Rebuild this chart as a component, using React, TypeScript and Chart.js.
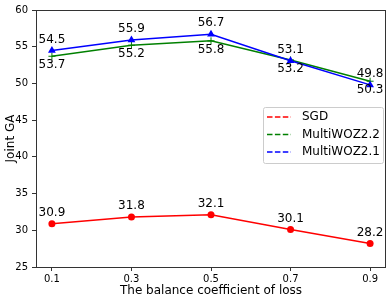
import React, { useEffect, useRef } from "react";
import { Chart, registerables } from "chart.js";

Chart.register(...registerables);

const xValues = [0.1, 0.3, 0.5, 0.7, 0.9];
const xTickLabels = ["0.1", "0.3", "0.5", "0.7", "0.9"];
const sgd = [30.9, 31.8, 32.1, 30.1, 28.2];
const multiwoz22 = [53.7, 55.2, 55.8, 53.2, 50.3];
const multiwoz21 = [54.5, 55.9, 56.7, 53.1, 49.8];
const seriesNames = ["SGD", "MultiWOZ2.2", "MultiWOZ2.1"];
const seriesColors = ["#ff0000", "#008000", "#0000ff"];
const yTicks = [25, 30, 35, 40, 45, 50, 55, 60];

const FONT = "'DejaVu Sans', sans-serif";

const frameAndLabels = {
  id: "frameAndLabels",
  afterDatasetsDraw(chart: any) {
    const ctx = chart.ctx;
    ctx.save();
    ctx.font = `12px ${FONT}`;
    ctx.fillStyle = "#000";
    ctx.textAlign = "center";
    ctx.textBaseline = "middle";
    chart.data.datasets.forEach((ds: any, di: number) => {
      const meta = chart.getDatasetMeta(di);
      meta.data.forEach((pt: any, i: number) => {
        const v = ds.data[i].y;
        const dy = ds.labelPos === "below" ? 9 : -11;
        ctx.fillText(v.toFixed(1), pt.x, pt.y + dy);
      });
    });
    ctx.restore();
  },
  afterDraw(chart: any) {
    const ctx = chart.ctx;
    const a = chart.chartArea;
    ctx.save();
    ctx.strokeStyle = "#333";
    ctx.lineWidth = 1;
    ctx.strokeRect(Math.round(a.left) + 0.5, Math.round(a.top) + 0.5, Math.round(a.right - a.left) - 1, Math.round(a.bottom - a.top));
    // legend
    const bx = 263.5, by = 107.5, bw = 120, bh = 56;
    ctx.fillStyle = "rgba(255,255,255,0.8)";
    ctx.strokeStyle = "#cccccc";
    ctx.beginPath();
    ctx.roundRect(bx, by, bw, bh, 2);
    ctx.fill();
    ctx.stroke();
    const rows = [117, 134.5, 152];
    chart.data.datasets.forEach((ds: any, i: number) => {
      const y = rows[i];
      ctx.strokeStyle = ds.borderColor;
      ctx.lineWidth = 1.5;
      ctx.setLineDash([5.5, 2.4]);
      ctx.beginPath();
      ctx.moveTo(267, y);
      ctx.lineTo(291, y);
      ctx.stroke();
      ctx.setLineDash([]);
      ctx.fillStyle = "#000";
      ctx.font = `12px ${FONT}`;
      ctx.textAlign = "left";
      ctx.textBaseline = "middle";
      ctx.fillText(ds.label, 302, y);
    });
    ctx.restore();
  },
};

export default function App() {
  const ref = useRef<HTMLCanvasElement | null>(null);
  useEffect(() => {
    if (!ref.current) return;
    const mk = (vals: number[]) => vals.map((v, i) => ({ x: xValues[i], y: v }));
    const chart = new Chart(ref.current, {
      type: "line",
      data: {
        datasets: [
          {
            label: seriesNames[0],
            data: mk(sgd),
            borderColor: seriesColors[0],
            backgroundColor: seriesColors[0],
            borderWidth: 1.5,
            pointStyle: "circle",
            pointRadius: 3.5,
            pointBorderWidth: 0,
            tension: 0,
            order: 2,
            labelPos: "above",
          } as any,
          {
            label: seriesNames[1],
            data: mk(multiwoz22),
            borderColor: seriesColors[1],
            backgroundColor: seriesColors[1],
            borderWidth: 1.5,
            pointStyle: "cross",
            pointRadius: 3.5,
            pointBorderWidth: 1,
            tension: 0,
            order: 1,
            labelPos: "below",
          } as any,
          {
            label: seriesNames[2],
            data: mk(multiwoz21),
            borderColor: seriesColors[2],
            backgroundColor: seriesColors[2],
            borderWidth: 1.5,
            pointStyle: "triangle",
            pointRadius: 4.5,
            pointBorderWidth: 0,
            tension: 0,
            order: 0,
            labelPos: "above",
          } as any,
        ],
      },
      options: {
        responsive: false,
        animation: false,
        devicePixelRatio: 1,
        layout: { padding: { left: 0, right: 2, top: 4, bottom: 0 } },
        plugins: { legend: { display: false }, tooltip: { enabled: false } },
        scales: {
          x: {
            type: "linear",
            min: 0.06,
            max: 0.94,
            afterBuildTicks: (scale: any) => {
              scale.ticks = xValues.map((v) => ({ value: v }));
            },
            afterFit: (scale: any) => {
              scale.height = 32;
            },
            ticks: {
              autoSkip: false,
              maxRotation: 0,
              padding: 2,
              color: "#000",
              font: { family: FONT, size: 10 },
              callback: (v: any) => {
                const idx = xValues.findIndex((x) => Math.abs(x - v) < 1e-6);
                return idx >= 0 ? xTickLabels[idx] : "";
              },
            },
            grid: { drawOnChartArea: false, drawTicks: true, tickLength: 4, tickColor: "#333" },
            border: { display: false },
            title: {
              display: true,
              text: "The balance coefficient of loss",
              color: "#000",
              font: { family: FONT, size: 12 },
              padding: { top: 0, bottom: 0.5 },
            },
          },
          y: {
            type: "linear",
            min: 25,
            max: 60,
            afterBuildTicks: (scale: any) => {
              scale.ticks = yTicks.map((v) => ({ value: v }));
            },
            afterFit: (scale: any) => {
              scale.width = 36;
            },
            ticks: {
              padding: 4,
              color: "#000",
              font: { family: FONT, size: 10 },
            },
            grid: { drawOnChartArea: false, drawTicks: true, tickLength: 4, tickColor: "#333" },
            border: { display: false },
            title: {
              display: true,
              text: "Joint GA",
              color: "#000",
              font: { family: FONT, size: 12 },
              padding: { top: 4, bottom: 4 },
            },
          },
        },
      } as any,
      plugins: [frameAndLabels],
    });
    return () => chart.destroy();
  }, []);
  return (
    <div style={{ position: "fixed", left: 0, top: 0, width: 391, height: 299, background: "#fff" }}>
      <canvas ref={ref} width={391} height={299} style={{ display: "block" }} />
    </div>
  );
}
